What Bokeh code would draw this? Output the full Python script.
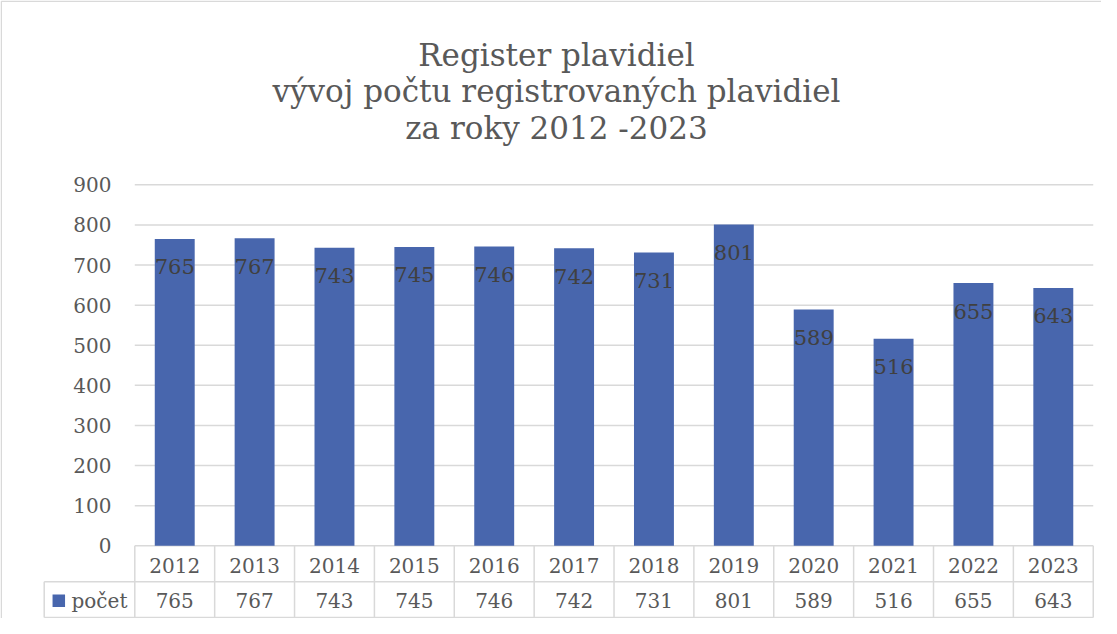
from bokeh.plotting import figure
from bokeh.models import Range1d, ColumnDataSource
from bokeh.core.properties import value
from bokeh.embed import file_html
from bokeh.resources import INLINE

# ---------------- data ----------------
YEARS = ["2012", "2013", "2014", "2015", "2016", "2017", "2018", "2019", "2020", "2021", "2022", "2023"]
COUNTS = [765, 767, 743, 745, 746, 742, 731, 801, 589, 516, 655, 643]
Y_TICKS = [0, 100, 200, 300, 400, 500, 600, 700, 800, 900]
SERIES_NAME = "počet"
TITLE_LINES = ["Register plavidiel", "vývoj počtu registrovaných plavidiel", "za roky 2012 -2023"]

# ---------------- layout / style constants ----------------
FIG_W, FIG_H = 1101, 618
PLOT_L = 134.3          # px from figure left where the category axis starts
CAT_PX = 79.87          # px per category
Y0 = 545.3              # px from figure top of value 0
PX_PER_UNIT = 0.4011    # px per value unit
ROW1_BOTTOM = 581.3     # px (table first row bottom)
ROW2_BOTTOM = 617.0     # px (table second row bottom)
CELL_LEFT = 43.7        # px left edge of legend cell
LABEL_DROP = 28         # px below bar top for data label centre
TITLE_CX = 556
TITLE_BASELINES = [54.0, 90.5, 127.0]

FONT = value("DejaVu Serif")
BAR = "#4866ad"
GRID = "#d9d9d9"
TXT = "#595959"
LBL = "#404040"


def xv(px):
    return -0.5 + (px - PLOT_L) / CAT_PX


def yv(py):
    return (Y0 - py) / PX_PER_UNIT


n = len(YEARS)
idx = list(range(n))
x_left, x_right = xv(PLOT_L), xv(PLOT_L + CAT_PX * n)

p = figure(width=FIG_W, height=FIG_H, title=None,
           x_range=Range1d(xv(0), xv(FIG_W)), y_range=Range1d(yv(FIG_H), yv(0)),
           x_axis_type=None, y_axis_type=None, toolbar_location=None,
           output_backend="svg", min_border=0,
           outline_line_color=None, background_fill_color="white", border_fill_color="white")
p.xgrid.visible = False
p.ygrid.visible = False

# outer chart border (top + left)
p.segment(x0=[xv(0.75), xv(0.75)], y0=[yv(0.75), yv(0.75)],
          x1=[xv(FIG_W), xv(0.75)], y1=[yv(0.75), yv(FIG_H)],
          line_color=GRID, line_width=1.5)

# gridlines
p.segment(x0=[x_left] * len(Y_TICKS), x1=[x_right] * len(Y_TICKS), y0=Y_TICKS, y1=Y_TICKS,
          line_color=GRID, line_width=1.5)

# y tick labels
p.text(x=[xv(111)] * len(Y_TICKS), y=Y_TICKS, text=[str(t) for t in Y_TICKS],
       text_font=FONT, text_font_size="20px", text_color=TXT,
       text_align="right", text_baseline="middle")

# bars
src = ColumnDataSource(dict(x=idx, top=COUNTS, lbl=[str(c) for c in COUNTS],
                            ly=[c - LABEL_DROP / PX_PER_UNIT for c in COUNTS]))
p.vbar(x="x", top="top", width=0.5, bottom=0, source=src, fill_color=BAR, line_color=None)

# data labels
p.text(x="x", y="ly", text="lbl", source=src, text_font=FONT, text_font_size="21px",
       text_color=LBL, text_align="center", text_baseline="middle")

# data table lines
row1_b, row2_b = yv(ROW1_BOTTOM), yv(ROW2_BOTTOM)
cell_l = xv(CELL_LEFT)
vx = [x_left + k for k in range(n + 1)]
p.segment(x0=vx, x1=vx, y0=[0] * len(vx), y1=[row2_b] * len(vx), line_color=GRID, line_width=1.5)
p.segment(x0=[cell_l, cell_l, cell_l], x1=[cell_l, x_right, x_right],
          y0=[row1_b, row1_b, row2_b], y1=[row2_b, row1_b, row2_b],
          line_color=GRID, line_width=1.5)

# table texts
p.text(x=idx, y=[yv(Y0 + 19.5)] * n, text=YEARS, text_font=FONT, text_font_size="20px",
       text_color=TXT, text_align="center", text_baseline="middle")
p.text(x=idx, y=[yv(Y0 + 55)] * n, text=[str(c) for c in COUNTS], text_font=FONT,
       text_font_size="20px", text_color=TXT, text_align="center", text_baseline="middle")

# legend key + series name
p.scatter(x=[xv(58.3)], y=[yv(Y0 + 55)], marker="square", size=12.5, fill_color=BAR, line_color=None)
p.text(x=[xv(71)], y=[yv(Y0 + 55)], text=[SERIES_NAME], text_font=FONT, text_font_size="20px",
       text_color=TXT, text_align="left", text_baseline="middle")

# title
p.text(x=[xv(TITLE_CX)] * len(TITLE_LINES), y=[yv(b) for b in TITLE_BASELINES], text=TITLE_LINES,
       text_font=FONT, text_font_size="31px", text_color=TXT,
       text_align="center", text_baseline="alphabetic")

open("out.html", "w").write(file_html(p, INLINE))
